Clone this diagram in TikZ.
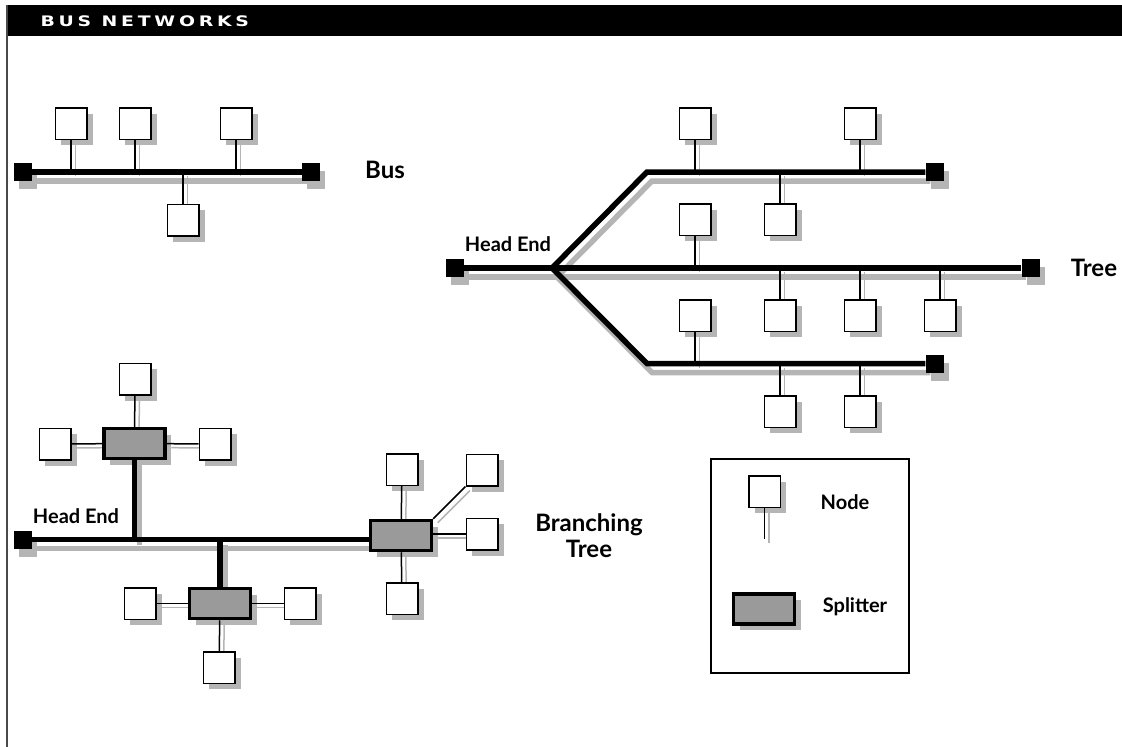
\documentclass[tikz,border=0pt]{standalone}
\usepackage{fontspec}
\setmainfont{Lato}
\newfontfamily\titlefont[FakeStretch=1.3,LetterSpace=26]{DejaVu Sans}
\usepackage{tikz}
\usetikzlibrary{positioning,shadows,backgrounds}
\definecolor{shadowGray}{HTML}{B5B5B5}
\definecolor{splitGray}{HTML}{9A9A9A}
\definecolor{rule}{HTML}{4A4A4A}

\begin{document}
\begin{tikzpicture}[x=1pt,y=-1pt,line join=miter,
  station/.style={draw,line width=1.5pt,fill=white,minimum size=31.5pt,inner sep=0pt,
    drop shadow={shadow xshift=6pt,shadow yshift=-6pt,fill=shadowGray,opacity=1}},
  splitter/.style={draw,line width=3.5pt,fill=splitGray,minimum width=61pt,minimum height=30pt,inner sep=0pt,
    drop shadow={shadow xshift=6pt,shadow yshift=-6pt,fill=shadowGray,opacity=1}},
  term/.style={fill=black,minimum size=18pt,inner sep=0pt,
    drop shadow={shadow xshift=5pt,shadow yshift=-8pt,fill=shadowGray,opacity=1}},
  trunk/.style={line width=5.5pt},
  tap/.style={line width=1.5pt},
  big/.style={font=\bfseries\fontsize{24}{26}\selectfont},
  hint/.style={font=\bfseries\fontsize{20}{22}\selectfont}]
\useasboundingbox (0,0) rectangle (1122,747);
% frame and title bar
\fill (6,5) rectangle (1122,36);
\draw[rule,line width=1.5pt] (7,5) -- (7,747);
\node[anchor=west,text=white,font=\titlefont\bfseries\fontsize{14.5}{16}\selectfont] (title) at (37,21) {BUS NETWORKS};

% bus
\node[term] (bL) at (23,172) {};
\node[term] (bR) at (311,172) {};
\node[station] (b1) at (71,123.5) {};
\node[station] (b2) at (135,123.5) {};
\node[station] (b3) at (236,123.5) {};
\node[station] (b4) at (183,220) {};
\node[big] (busLbl) at (385,170) {Bus};

% tree
\node[term] (hT) at (454.5,268) {};
\node[term] (eT1) at (934.5,172) {};
\node[term] (eT2) at (1030.5,268) {};
\node[term] (eT3) at (934.5,363.5) {};
\coordinate (sp) at (552,268);
\coordinate (k1) at (647,172);
\coordinate (k3) at (647,363.5);
\node[station] (t1a) at (695,123.5) {};
\node[station] (t1b) at (860,123.5) {};
\node[station] (t1c) at (780,219.5) {};
\node[station] (t2a) at (695,219.5) {};
\node[station] (t2b) at (780,315.5) {};
\node[station] (t2c) at (860,315.5) {};
\node[station] (t2d) at (940,315.5) {};
\node[station] (t3a) at (695,315.5) {};
\node[station] (t3b) at (780,411.5) {};
\node[station] (t3c) at (860,411.5) {};
\node[hint] (treeHead) at (508,244) {Head End};
\node[big] (treeLbl) at (1094,268) {Tree};

% branching tree
\node[term] (hB) at (23,539.5) {};
\node[splitter] (s1) at (134.5,443.5) {};
\node[splitter] (s2) at (220,603.5) {};
\node[splitter] (s3) at (401,535.5) {};
\node[station] (u1) at (135,379) {};
\node[station] (u2) at (55,444) {};
\node[station] (u3) at (215,444) {};
\node[station] (v1) at (140,603.5) {};
\node[station] (v2) at (300,603.5) {};
\node[station] (v3) at (219,667.5) {};
\node[station] (w1) at (402,469.5) {};
\node[station] (w2) at (482,470) {};
\node[station] (w3) at (482,534) {};
\node[station] (w4) at (402,598.5) {};
\node[hint] (branchHead) at (76,516) {Head End};
\node[big,align=center] (branchLbl) at (589,536) {Branching\\Tree};

% legend
\draw[line width=1.5pt] (711,459) rectangle (909,673);
\node[station] (ln) at (764.5,491.5) {};
\coordinate (lnEnd) at (764.5,539);
\node[splitter] (ls) at (764,609) {};
\node[hint] (nodeLbl) at (845,502) {Node};
\node[hint] (splitLbl) at (855,607) {Splitter};

% shadows of the cables
\begin{pgfonlayer}{background}
\begin{scope}[shadowGray,transform canvas={xshift=5pt,yshift=-9pt}]
\draw[trunk] (bL) -- (bR);
\draw[trunk] (hT) -- (eT2);
\draw[trunk] (sp) -- (k1) -- (eT1);
\draw[trunk] (sp) -- (k3) -- (eT3);
\draw[trunk] (hB) -- (hB -| s3.west);
\end{scope}
\begin{scope}[shadowGray,transform canvas={xshift=5pt,yshift=-5pt}]
\draw[trunk] (s1.south) -- (s1.south |- hB);
\draw[trunk] (s2.north) -- (s2.north |- hB);
\end{scope}
\begin{scope}[shadowGray,transform canvas={xshift=4.5pt,yshift=-4pt}]
\draw[tap] (b1.south) -- (b1.south |- bL);
\draw[tap] (b2.south) -- (b2.south |- bL);
\draw[tap] (b3.south) -- (b3.south |- bL);
\draw[tap] (b4.north) -- (b4.north |- bL);
\draw[tap] (t1a.south) -- (t1a.south |- k1);
\draw[tap] (t1b.south) -- (t1b.south |- k1);
\draw[tap] (t1c.north) -- (t1c.north |- k1);
\draw[tap] (t2a.south) -- (t2a.south |- hT);
\draw[tap] (t2b.north) -- (t2b.north |- hT);
\draw[tap] (t2c.north) -- (t2c.north |- hT);
\draw[tap] (t2d.north) -- (t2d.north |- hT);
\draw[tap] (t3a.south) -- (t3a.south |- k3);
\draw[tap] (t3b.north) -- (t3b.north |- k3);
\draw[tap] (t3c.north) -- (t3c.north |- k3);
\draw[tap] (u1) -- (s1);
\draw[tap] (u2) -- (s1);
\draw[tap] (u3) -- (s1);
\draw[tap] (v1) -- (s2);
\draw[tap] (v2) -- (s2);
\draw[tap] (v3) -- (s2);
\draw[tap] (w1) -- (s3);
\draw[tap] (s3.north east) -- (w2.south west);
\draw[tap] (w3) -- (w3 -| s3.east);
\draw[tap] (w4) -- (s3);
\draw[tap] (ln.south) -- (lnEnd);
\end{scope}
\end{pgfonlayer}

% cables
\draw[trunk] (bL) -- (bR);
\draw[trunk] (hT) -- (eT2);
\draw[trunk] (sp) -- (k1) -- (eT1);
\draw[trunk] (sp) -- (k3) -- (eT3);
\draw[trunk] (hB) -- (hB -| s3.west);
\draw[trunk] (s1.south) -- (s1.south |- hB);
\draw[trunk] (s2.north) -- (s2.north |- hB);
\draw[tap] (b1.south) -- (b1.south |- bL);
\draw[tap] (b2.south) -- (b2.south |- bL);
\draw[tap] (b3.south) -- (b3.south |- bL);
\draw[tap] (b4.north) -- (b4.north |- bL);
\draw[tap] (t1a.south) -- (t1a.south |- k1);
\draw[tap] (t1b.south) -- (t1b.south |- k1);
\draw[tap] (t1c.north) -- (t1c.north |- k1);
\draw[tap] (t2a.south) -- (t2a.south |- hT);
\draw[tap] (t2b.north) -- (t2b.north |- hT);
\draw[tap] (t2c.north) -- (t2c.north |- hT);
\draw[tap] (t2d.north) -- (t2d.north |- hT);
\draw[tap] (t3a.south) -- (t3a.south |- k3);
\draw[tap] (t3b.north) -- (t3b.north |- k3);
\draw[tap] (t3c.north) -- (t3c.north |- k3);
\draw[tap] (u1) -- (s1);
\draw[tap] (u2) -- (s1);
\draw[tap] (u3) -- (s1);
\draw[tap] (v1) -- (s2);
\draw[tap] (v2) -- (s2);
\draw[tap] (v3) -- (s2);
\draw[tap] (w1) -- (s3);
\draw[tap] (s3.north east) -- (w2.south west);
\draw[tap] (w3) -- (w3 -| s3.east);
\draw[tap] (w4) -- (s3);
\draw[tap] (ln.south) -- (lnEnd);
\end{tikzpicture}
\end{document}
